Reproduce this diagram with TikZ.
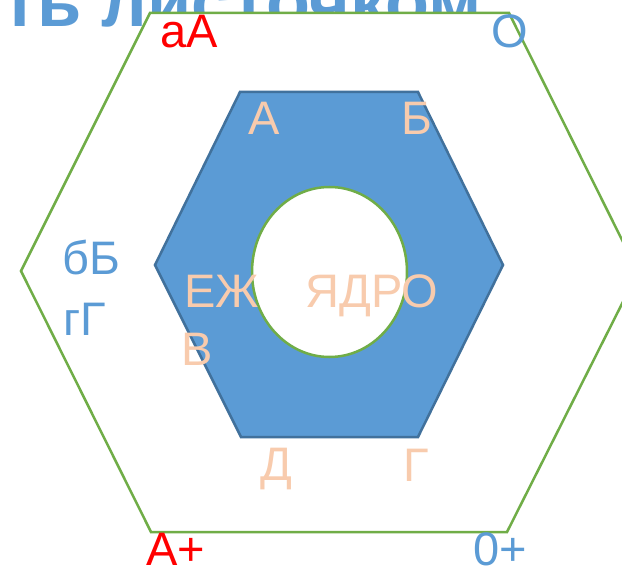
\documentclass[tikz,border=0pt]{standalone}
\usepackage{fontspec}
\setmainfont{Liberation Sans}
\definecolor{peach}{HTML}{F8CBAD}
\definecolor{ltblue}{HTML}{5B9BD5}
\definecolor{hexgreen}{HTML}{70AD47}
\definecolor{hexborder}{HTML}{41719C}
\begin{document}
\begin{tikzpicture}[x=1pt,y=-1pt,
  lbl/.style={inner sep=0pt, anchor=base, font=\fontsize{47}{47}\selectfont},
  peachlbl/.style={lbl, text=peach},
  bluelbl/.style={lbl, text=ltblue},
  redlbl/.style={lbl, text=red},
  titletext/.style={inner sep=0pt, anchor=base west, text=ltblue, font=\fontsize{72}{72}\selectfont\bfseries},
  outerhex/.style={draw=hexgreen, line width=2.5pt, fill=white},
  innerhex/.style={draw=hexborder, line width=2.5pt, fill=ltblue},
  core/.style={draw=hexgreen, line width=2.5pt, fill=white}]
\useasboundingbox (0,0) rectangle (622,567);
\clip (0,0) rectangle (622,567);
\fill[white] (0,0) rectangle (622,567);
\node[titletext] (title) at (2,27) {ть листочком};
\path[outerhex] (150,13) -- (509,13) -- (638,272) -- (507,532) -- (151,532) -- (21,271) -- cycle;
\path[innerhex] (240,92) -- (418,92) -- (503,265) -- (418,437) -- (241,437) -- (155,265) -- cycle;
\path[core] (329.5,272) ellipse [x radius=77.5, y radius=85];
\node[peachlbl] (a) at (264,135) {А};
\node[peachlbl] (b) at (417,135) {Б};
\node[peachlbl] (d) at (276,480) {Д};
\node[peachlbl] (g) at (416,481) {Г};
\node[peachlbl] (ezh) at (222,308) {ЕЖ};
\node[peachlbl] (core) at (372,308) {ЯДРО};
\node[peachlbl] (v) at (197,365) {В};
\node[redlbl] (aa) at (189,48) {аА};
\node[bluelbl] (o) at (510,48) {О};
\node[bluelbl] (bb) at (91,275) {бБ};
\node[bluelbl] (gg) at (85,335) {гГ};
\node[redlbl] (aplus) at (176,565) {А+};
\node[bluelbl] (zplus) at (500,565) {0+};
\end{tikzpicture}
\end{document}
